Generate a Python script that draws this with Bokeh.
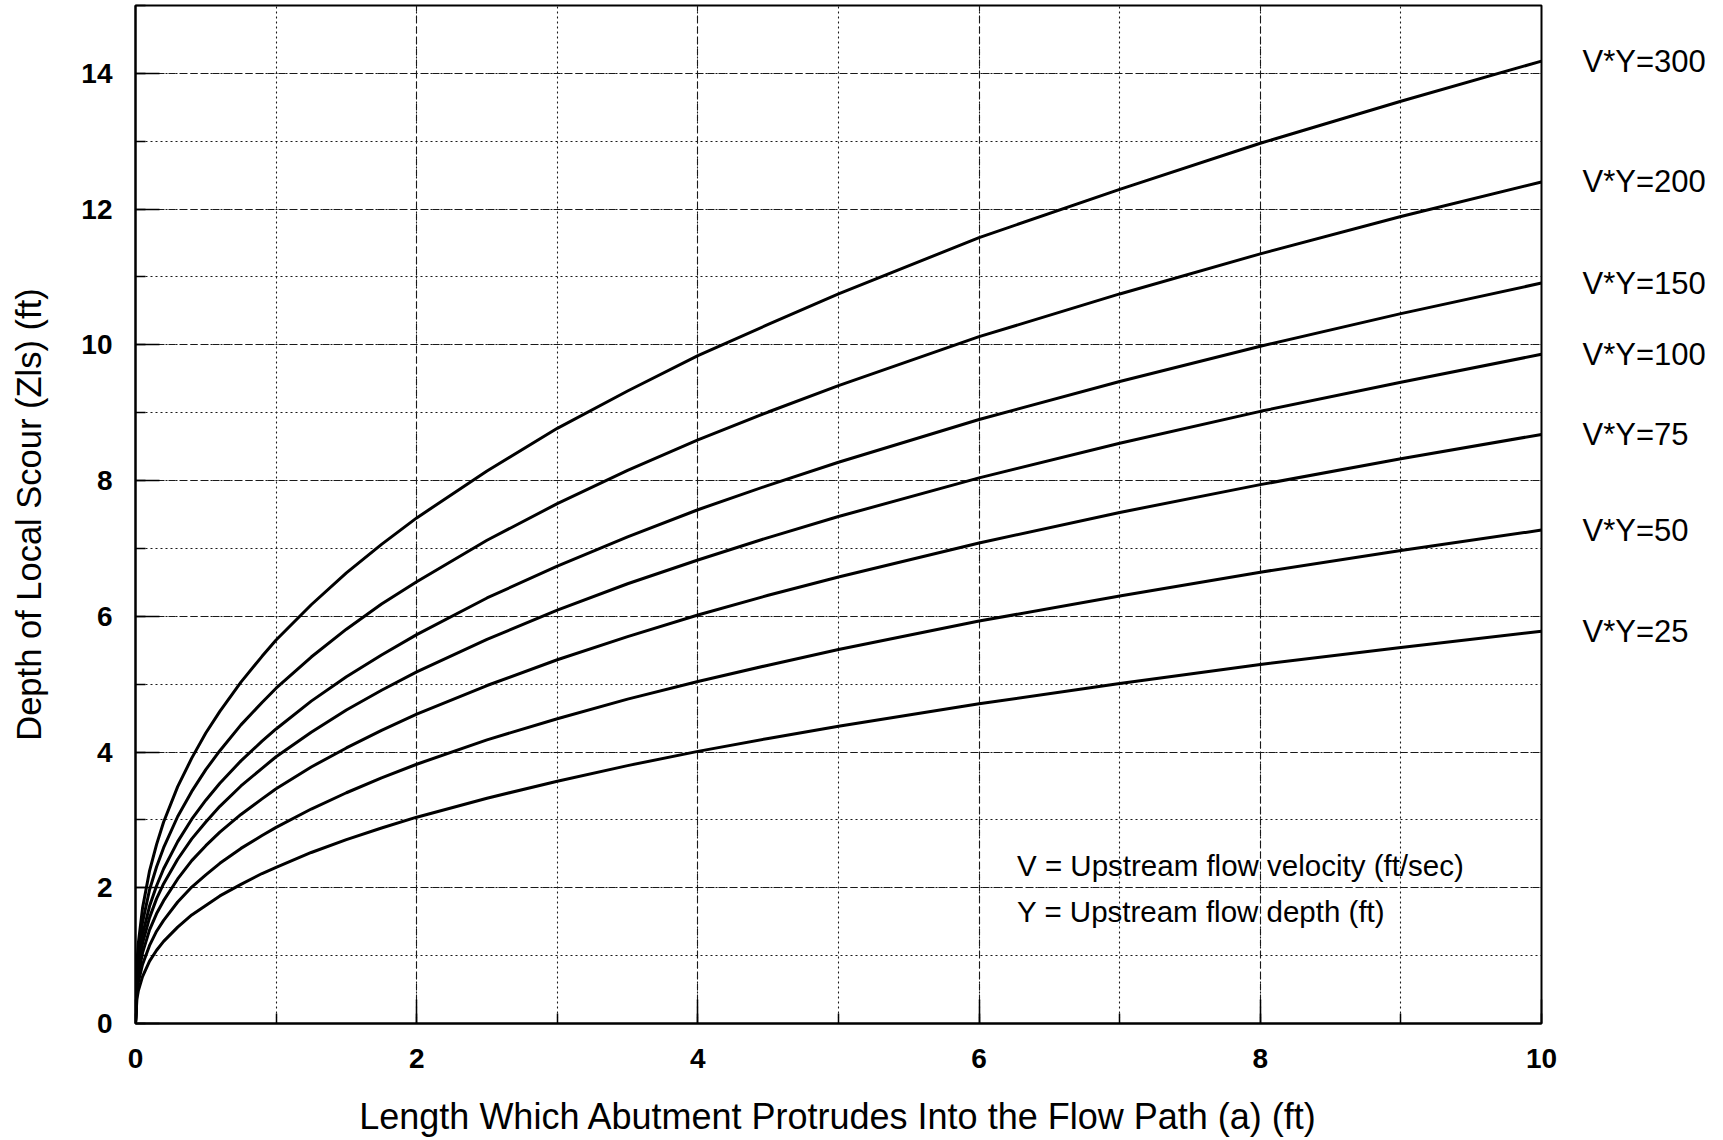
from bokeh.plotting import figure
from bokeh.models import Range1d, SingleIntervalTicker, FixedTicker, Label, LinearAxis, CustomJSTickFormatter
from bokeh.embed import file_html
from bokeh.resources import INLINE

# Length which abutment protrudes into the flow path, a (ft)
a_ft = [0, 0.01, 0.02, 0.05, 0.1, 0.15, 0.2, 0.3, 0.4, 0.5, 0.6, 0.75, 0.9, 1, 1.25, 1.5, 1.75,
        2, 2.5, 3, 3.5, 4, 4.5, 5, 6, 7, 8, 9, 10]

# Depth of local scour Zls (ft), one list per V*Y curve
zls_vy300 = [0, 0.89, 1.18, 1.70, 2.25, 2.64, 2.97, 3.49, 3.91, 4.28, 4.60, 5.03, 5.41, 5.65, 6.17, 6.64, 7.06,
             7.45, 8.14, 8.77, 9.32, 9.84, 10.30, 10.75, 11.58, 12.29, 12.97, 13.59, 14.18]
zls_vy200 = [0, 0.78, 1.03, 1.49, 1.97, 2.31, 2.59, 3.05, 3.42, 3.74, 4.02, 4.40, 4.73, 4.94, 5.40, 5.81, 6.18,
             6.51, 7.12, 7.66, 8.15, 8.60, 9.01, 9.40, 10.12, 10.75, 11.34, 11.89, 12.40]
zls_vy150 = [0, 0.69, 0.91, 1.31, 1.73, 2.03, 2.28, 2.68, 3.01, 3.29, 3.54, 3.87, 4.16, 4.34, 4.75, 5.11, 5.43,
             5.73, 6.27, 6.74, 7.17, 7.57, 7.93, 8.27, 8.90, 9.46, 9.98, 10.46, 10.91]
zls_vy100 = [0, 0.62, 0.82, 1.18, 1.56, 1.84, 2.06, 2.42, 2.72, 2.97, 3.20, 3.50, 3.76, 3.93, 4.29, 4.62, 4.91,
             5.18, 5.66, 6.09, 6.48, 6.83, 7.16, 7.47, 8.04, 8.55, 9.02, 9.45, 9.86]
zls_vy75 = [0, 0.55, 0.72, 1.04, 1.38, 1.62, 1.81, 2.13, 2.40, 2.62, 2.82, 3.08, 3.31, 3.46, 3.78, 4.06, 4.32,
            4.56, 4.98, 5.36, 5.70, 6.02, 6.31, 6.58, 7.08, 7.53, 7.94, 8.32, 8.68]
zls_vy50 = [0, 0.46, 0.61, 0.87, 1.15, 1.36, 1.52, 1.79, 2.01, 2.19, 2.36, 2.58, 2.77, 2.89, 3.16, 3.40, 3.62,
            3.82, 4.18, 4.49, 4.78, 5.04, 5.28, 5.51, 5.93, 6.30, 6.65, 6.97, 7.27]
zls_vy25 = [0, 0.36, 0.48, 0.69, 0.92, 1.08, 1.21, 1.42, 1.60, 1.74, 1.88, 2.05, 2.21, 2.30, 2.52, 2.71, 2.88,
            3.04, 3.32, 3.57, 3.80, 4.01, 4.20, 4.38, 4.71, 5.01, 5.29, 5.54, 5.78]

curve_labels = ["V*Y=300", "V*Y=200", "V*Y=150", "V*Y=100", "V*Y=75", "V*Y=50", "V*Y=25"]
curves = [zls_vy300, zls_vy200, zls_vy150, zls_vy100, zls_vy75, zls_vy50, zls_vy25]

note_lines = ["V = Upstream flow velocity (ft/sec)", "Y = Upstream flow depth (ft)"]

FONT = "Liberation Sans"

p = figure(width=1715, height=1140,
           x_range=Range1d(0, 10), y_range=Range1d(0, 15),
           output_backend="svg", toolbar_location=None,
           min_border_left=135, min_border_right=174,
           min_border_top=5, min_border_bottom=117)

p.background_fill_color = "white"
p.border_fill_color = "white"
p.outline_line_color = "black"
p.outline_line_width = 2

for ax in (p.xaxis[0], p.yaxis[0]):
    ax.ticker = SingleIntervalTicker(interval=2, num_minor_ticks=2)
    ax.axis_line_width = 2
    ax.axis_line_color = "black"
    ax.major_tick_in = 24
    ax.major_tick_out = 0
    ax.minor_tick_in = 10
    ax.minor_tick_out = 0
    ax.major_tick_line_width = 1.5
    ax.minor_tick_line_width = 1.5
    ax.major_label_text_font = FONT
    ax.major_label_text_font_size = "28px"
    ax.major_label_text_font_style = "bold"
    ax.major_label_text_color = "black"
    ax.axis_label_text_font = FONT
    ax.axis_label_text_font_style = "normal"
    ax.axis_label_text_color = "black"

p.xaxis.axis_label = "Length Which Abutment Protrudes Into the Flow Path (a) (ft)"
p.yaxis.axis_label = "Depth of Local Scour (Zls) (ft)"
p.xaxis.axis_label_text_font_size = "36px"
p.yaxis.axis_label_text_font_size = "34.5px"
p.xaxis.major_label_standoff = 25
p.yaxis.major_label_standoff = 23
p.xaxis.axis_label_standoff = 25
p.yaxis.axis_label_standoff = 30

for g in (p.xgrid[0], p.ygrid[0]):
    g.grid_line_color = "#1a1a1a"
    g.grid_line_width = 1.1
    g.grid_line_dash = "7 4"
    g.minor_grid_line_color = "#1a1a1a"
    g.minor_grid_line_width = 1.1
    g.minor_grid_line_dash = "2 3"

for ys in curves:
    p.line(a_ft, ys, line_color="black", line_width=3)

# curve names on the right, placed at each curve's end value
end_vals = [ys[-1] for ys in curves]
right_ax = LinearAxis(
    ticker=FixedTicker(ticks=end_vals, minor_ticks=[]),
    formatter=CustomJSTickFormatter(
        args=dict(vals=end_vals, labs=curve_labels),
        code="""
        let best = 0, bd = 1e9;
        for (let i = 0; i < vals.length; i++) {
          const d = Math.abs(vals[i] - tick);
          if (d < bd) { bd = d; best = i; }
        }
        return labs[best];
        """),
    axis_line_color=None, major_tick_line_color=None, minor_tick_line_color=None,
    major_tick_in=0, major_tick_out=0, minor_tick_in=0, minor_tick_out=0,
    major_label_standoff=41,
    major_label_text_font=FONT, major_label_text_font_size="31px",
    major_label_text_color="black")
p.add_layout(right_ax, "right")

for i, t in enumerate(note_lines):
    p.add_layout(Label(x=6.27, y=2.33 - 0.68 * i, text=t,
                       text_align="left", text_baseline="middle",
                       text_font=FONT, text_font_size="29.5px", text_color="black"))

open("out.html", "w").write(file_html(p, INLINE))
